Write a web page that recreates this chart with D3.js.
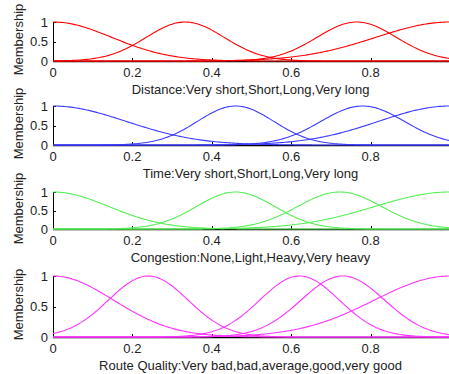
<!DOCTYPE html>
<html>
<head>
<meta charset="utf-8">
<script src="https://cdn.jsdelivr.net/npm/d3@7"></script>
<style>
  body { margin: 0; background: #fff; }
  text { font-family: "Liberation Sans", Arial, sans-serif; }
</style>
</head>
<body>
<svg id="chart" width="449" height="374"></svg>
<script>
// Gaussian membership functions: centre and width of each term
var distanceCenters = [0, 0.333, 0.765, 1.0];
var distanceSigmas = [0.148, 0.098, 0.1, 0.187];

var timeCenters = [0, 0.46, 0.78, 1.0];
var timeSigmas = [0.184, 0.096, 0.105, 0.18];

var congestionCenters = [0, 0.46, 0.722, 1.0];
var congestionSigmas = [0.141, 0.099, 0.106, 0.19];

var qualityCenters = [0, 0.24, 0.621, 0.73, 1.0];
var qualitySigmas = [0.152, 0.1, 0.1, 0.105, 0.19];

var panelTitles = [
    'Distance:Very short,Short,Long,Very long',
    'Time:Very short,Short,Long,Very long',
    'Congestion:None,Light,Heavy,Very heavy',
    'Route Quality:Very bad,bad,average,good,very good'
];
var xTicks = [0, 0.2, 0.4, 0.6, 0.8];
var yTicks = [0, 0.5, 1];

var svg = d3.select('#chart');

// layout of the four stacked axes
var panels = [
    {top: 22, bottom: 61, centers: distanceCenters, sigmas: distanceSigmas, color: '#ff0000'},
    {top: 106, bottom: 145, centers: timeCenters, sigmas: timeSigmas, color: '#3b3bff'},
    {top: 192, bottom: 229, centers: congestionCenters, sigmas: congestionSigmas, color: '#55ee55'},
    {top: 276, bottom: 337, centers: qualityCenters, sigmas: qualitySigmas, color: '#ff33ff'}
];

var fontSize = 13;
var xScale = d3.scaleLinear().domain([0, 1]).range([53, 450]);
var samples = d3.range(0, 1.0001, 0.005);

function gaussmf(x, c, s) {
    return Math.exp(-(x - c) * (x - c) / (2 * s * s));
}

panels.forEach(function(p, i) {
    var yScale = d3.scaleLinear().domain([0, 1]).range([p.bottom, p.top]);
    var g = svg.append('g');

    // axis lines
    g.append('line')
        .attr('x1', xScale(0)).attr('x2', 449)
        .attr('y1', p.bottom + 0.5).attr('y2', p.bottom + 0.5)
        .attr('stroke', '#000').attr('stroke-width', 1.5);
    g.append('line')
        .attr('x1', xScale(0) + 0.5).attr('x2', xScale(0) + 0.5)
        .attr('y1', p.top).attr('y2', p.bottom)
        .attr('stroke', '#000');

    // x ticks (pointing inward)
    g.selectAll('.xtick').data(xTicks).enter().append('line')
        .attr('x1', function(d) { return Math.round(xScale(d)) + 0.5; })
        .attr('x2', function(d) { return Math.round(xScale(d)) + 0.5; })
        .attr('y1', p.bottom).attr('y2', p.bottom - 3)
        .attr('stroke', '#000');
    g.selectAll('.xlab').data(xTicks).enter().append('text')
        .attr('x', function(d) { return xScale(d); })
        .attr('y', p.bottom + 11)
        .attr('dy', '0.35em')
        .attr('text-anchor', 'middle')
        .attr('font-size', fontSize)
        .attr('fill', '#222')
        .text(function(d) { return d; });

    // y ticks
    g.selectAll('.ytick').data(yTicks).enter().append('line')
        .attr('x1', xScale(0)).attr('x2', xScale(0) + 3)
        .attr('y1', function(d) { return Math.round(yScale(d)) + 0.5; })
        .attr('y2', function(d) { return Math.round(yScale(d)) + 0.5; })
        .attr('stroke', '#000');
    g.selectAll('.ylab').data(yTicks).enter().append('text')
        .attr('x', xScale(0) - 5)
        .attr('y', function(d) { return yScale(d); })
        .attr('dy', '0.35em')
        .attr('text-anchor', 'end')
        .attr('font-size', fontSize)
        .attr('fill', '#222')
        .text(function(d) { return d; });

    // membership curves
    var line = d3.line()
        .x(function(d) { return xScale(d[0]); })
        .y(function(d) { return yScale(d[1]); });
    p.centers.forEach(function(c, k) {
        var pts = samples.map(function(x) { return [x, gaussmf(x, c, p.sigmas[k])]; });
        g.append('path')
            .attr('d', line(pts))
            .attr('fill', 'none')
            .attr('stroke', p.color)
            .attr('stroke-width', 1.1);
    });

    // labels
    g.append('text')
        .attr('transform', 'translate(18,' + ((p.top + p.bottom) / 2 - 2) + ') rotate(-90)')
        .attr('dy', '0.35em')
        .attr('text-anchor', 'middle')
        .attr('font-size', fontSize)
        .attr('fill', '#222')
        .text('Membership');
    g.append('text')
        .attr('x', (xScale(0) + xScale(1)) / 2 - 1)
        .attr('y', p.bottom + 28)
        .attr('dy', '0.35em')
        .attr('text-anchor', 'middle')
        .attr('font-size', fontSize)
        .attr('fill', '#222')
        .text(panelTitles[i]);
});
</script>
</body>
</html>
